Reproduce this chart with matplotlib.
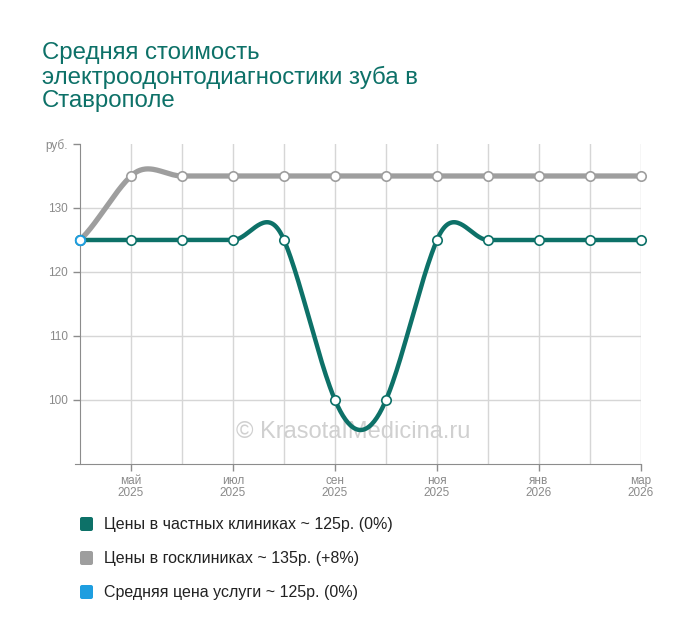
import numpy as np
import matplotlib
matplotlib.use("Agg")
import matplotlib.pyplot as plt
from matplotlib.patches import FancyBboxPatch

plt.rcParams['font.family'] = ['Liberation Sans', 'DejaVu Sans']

# данные
meses = ["апр\n2025", "май\n2025", "июн\n2025", "июл\n2025", "авг\n2025", "сен\n2025",
         "окт\n2025", "ноя\n2025", "дек\n2025", "янв\n2026", "фев\n2026", "мар\n2026"]
precos_privadas = [125, 125, 125, 125, 125, 100, 100, 125, 125, 125, 125, 125]
precos_gov = [125, 135, 135, 135, 135, 135, 135, 135, 135, 135, 135, 135]
preco_medio = [125]
legendas = ["Цены в частных клиниках ~ 125р. (0%)",
            "Цены в госклиниках ~ 135р. (+8%)",
            "Средняя цена услуги ~ 125р. (0%)"]

TEAL = "#0d7168"
GRAY = "#9e9e9e"
BLUE = "#1e9ee0"
TXT = "#8a8a8a"


def suavizar(y, s=1.5, n=40):
    # spline tipo catmull-rom entre os pontos
    y = np.asarray(y, float)
    xs, ys = [], []
    for i in range(len(y) - 1):
        p0 = y[i - 1] if i > 0 else y[i]
        p3 = y[i + 2] if i + 2 < len(y) else y[i + 1]
        m1 = s * (y[i + 1] - p0) / 2
        m2 = s * (p3 - y[i]) / 2
        t = np.linspace(0, 1, n)
        h00 = 2 * t**3 - 3 * t**2 + 1
        h10 = t**3 - 2 * t**2 + t
        h01 = -2 * t**3 + 3 * t**2
        h11 = t**3 - t**2
        xs.append(i + t)
        ys.append(h00 * y[i] + h10 * m1 + h01 * y[i + 1] + h11 * m2)
    return np.concatenate(xs), np.concatenate(ys)


fig = plt.figure(figsize=(7, 6.41), dpi=100)
ax = fig.add_axes([80 / 700, 1 - 464 / 641, 561 / 700, 320 / 641])

x = np.arange(len(meses))

xg, yg = suavizar(precos_gov)
ax.plot(xg, yg, color=GRAY, lw=3.8, solid_capstyle="round", zorder=3, clip_on=False)
xp, yp = suavizar(precos_privadas)
ax.plot(xp, yp, color=TEAL, lw=3.2, solid_capstyle="round", zorder=4, clip_on=False)

ax.scatter(x, precos_gov, s=46, facecolor="white", edgecolor=GRAY, lw=1.2, zorder=5, clip_on=False)
ax.scatter(x, precos_privadas, s=46, facecolor="white", edgecolor=TEAL, lw=1.2, zorder=6, clip_on=False)
ax.scatter(x[:len(preco_medio)], preco_medio, s=46, facecolor="white", edgecolor=BLUE, lw=1.4,
           zorder=7, clip_on=False)

ax.set_xlim(0, len(meses) - 1)
ax.set_ylim(90, 140)
ax.set_yticks([100, 110, 120, 130, 140])
ax.set_yticklabels(["100", "110", "120", "130", "руб."])
ax.set_xticks(x[1::2])
ax.set_xticklabels(meses[1::2])

for xi in x[1:]:
    ax.axvline(xi, color="#d6d6d6", lw=1, zorder=1)
for yv in [100, 110, 120, 130]:
    ax.axhline(yv, color="#d6d6d6", lw=1, zorder=1)

for lado in ["top", "right"]:
    ax.spines[lado].set_visible(False)
ax.spines["left"].set_color("#8c8c8c")
ax.spines["bottom"].set_color("#8c8c8c")
ax.spines["bottom"].set_bounds(-0.1, len(meses) - 1)
ax.tick_params(axis="both", colors="#8c8c8c", labelcolor=TXT, labelsize=8.5, length=5, width=1)
ax.tick_params(axis="x", pad=3)
for lbl in ax.get_xticklabels():
    lbl.set_linespacing(1.0)

ax.text(0.487, 0.1, "© KrasotaIMedicina.ru", transform=ax.transAxes, ha="center", va="center",
        fontsize=17, color="#d0d0d0", zorder=2)

fig.text(42 / 700, 1 - 42 / 641, "Средняя стоимость\nэлектроодонтодиагностики зуба в\nСтаврополе",
         ha="left", va="top", fontsize=17.3, color=TEAL, linespacing=1.08)

cores = [TEAL, GRAY, BLUE]
for i, (txt, cor) in enumerate(zip(legendas, cores)):
    yc = 524 + 34 * i
    fig.patches.append(FancyBboxPatch((80 / 700, 1 - (yc + 7) / 641), 13 / 700, 14 / 641,
                                      boxstyle="round,pad=0,rounding_size=0.003",
                                      transform=fig.transFigure, facecolor=cor, edgecolor="none"))
    fig.text(104 / 700, 1 - yc / 641, txt, ha="left", va="center", fontsize=11.5, color="#222222")

fig.savefig("out.png", dpi=100)
